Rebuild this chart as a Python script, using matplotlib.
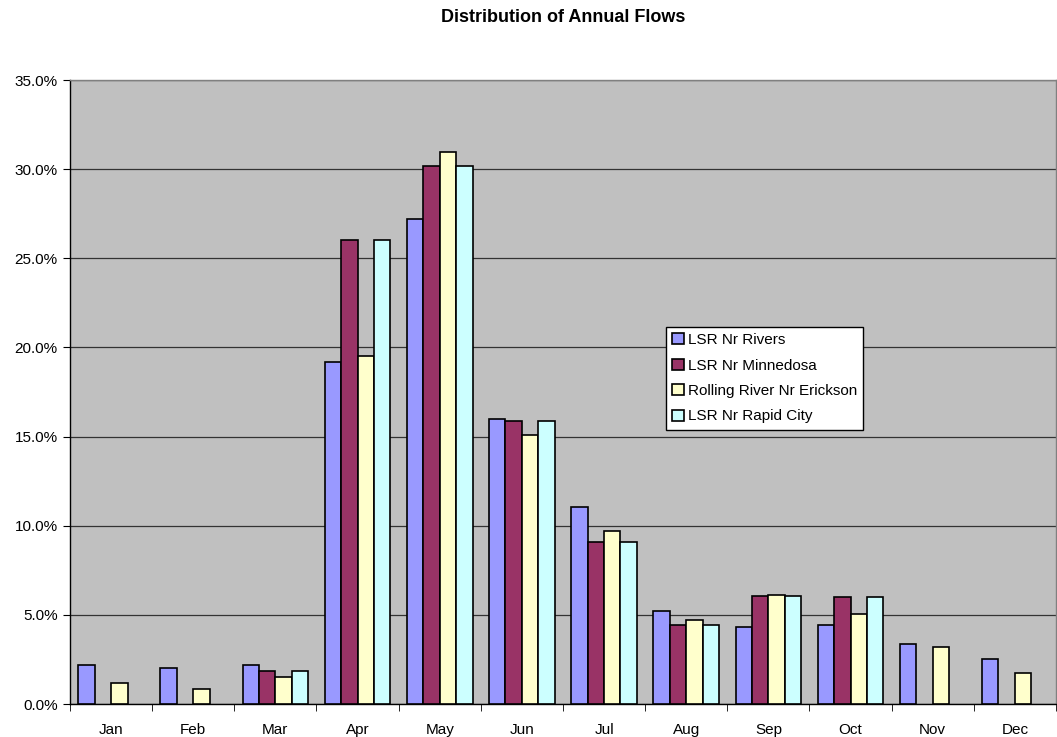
import numpy as np
import matplotlib.pyplot as plt
from matplotlib.ticker import FuncFormatter, FixedLocator

plt.rcParams['font.family'] = ['Liberation Sans', 'DejaVu Sans']

months = ["Jan", "Feb", "Mar", "Apr", "May", "Jun", "Jul", "Aug", "Sep", "Oct", "Nov", "Dec"]
series_names = ["LSR Nr Rivers", "LSR Nr Minnedosa", "Rolling River Nr Erickson", "LSR Nr Rapid City"]
rivers = [2.19, 2.02, 2.19, 19.2, 27.2, 16.0, 11.05, 5.2, 4.3, 4.43, 3.35, 2.52]
minnedosa = [np.nan, np.nan, 1.85, 26.05, 30.2, 15.9, 9.1, 4.45, 6.05, 6.01, np.nan, np.nan]
erickson = [1.19, 0.86, 1.51, 19.5, 30.96, 15.1, 9.7, 4.7, 6.1, 5.03, 3.18, 1.76]
rapid = [np.nan, np.nan, 1.85, 26.05, 30.2, 15.9, 9.1, 4.45, 6.05, 6.01, np.nan, np.nan]
colors = ["#9999FF", "#993366", "#FFFFCC", "#CCFFFF"]

fig = plt.figure(figsize=(10.57, 7.37), dpi=100)
ax = fig.add_axes([70/1057, 1 - 704/737, (1057-70)/1057 - 0.001, (704-80)/737])
ax.set_facecolor("#C0C0C0")

x = np.arange(len(months))
w = 0.2
data = [rivers, minnedosa, erickson, rapid]
for i, (vals, name, c) in enumerate(zip(data, series_names, colors)):
    ax.bar(x + (i - 1.5) * w, vals, width=w, color=c, edgecolor="black",
           linewidth=1.2, label=name, zorder=3)

ax.set_xlim(-0.5, 11.5)
ax.set_ylim(0, 35)
ax.yaxis.set_major_locator(FixedLocator(np.arange(0, 35.1, 5)))
ax.yaxis.set_major_formatter(FuncFormatter(lambda v, p: f"{v:.1f}%"))
ax.grid(axis="y", color="#333333", linewidth=0.9, zorder=1)

ax.set_xticks(x)
ax.set_xticklabels(months, fontsize=11)
ax.set_xticks(np.arange(-0.5, 12, 1), minor=True)
ax.tick_params(axis="x", which="major", length=0, pad=14)
ax.tick_params(axis="x", which="minor", length=5, color="black", direction="out")
ax.tick_params(axis="y", labelsize=11, length=5, direction="out", pad=4)

for s in ["left", "bottom"]:
    ax.spines[s].set_color("black")
    ax.spines[s].set_linewidth(1.0)
for s in ["top", "right"]:
    ax.spines[s].set_color("#808080")
    ax.spines[s].set_linewidth(1.0)

leg = ax.legend(loc="upper left", bbox_to_anchor=((667-70)/987, (704-327)/624),
                fontsize=11, frameon=True, fancybox=False, edgecolor="black",
                framealpha=1, handlelength=0.75, handleheight=0.75, handletextpad=0.25,
                borderpad=0.4, labelspacing=0.75, borderaxespad=0)
leg.get_frame().set_linewidth(1.0)

fig.text(563/1057, 1 - 18/737, "Distribution of Annual Flows", ha="center", va="center",
         fontsize=13, fontweight="bold")

fig.savefig("out.png", dpi=100)
